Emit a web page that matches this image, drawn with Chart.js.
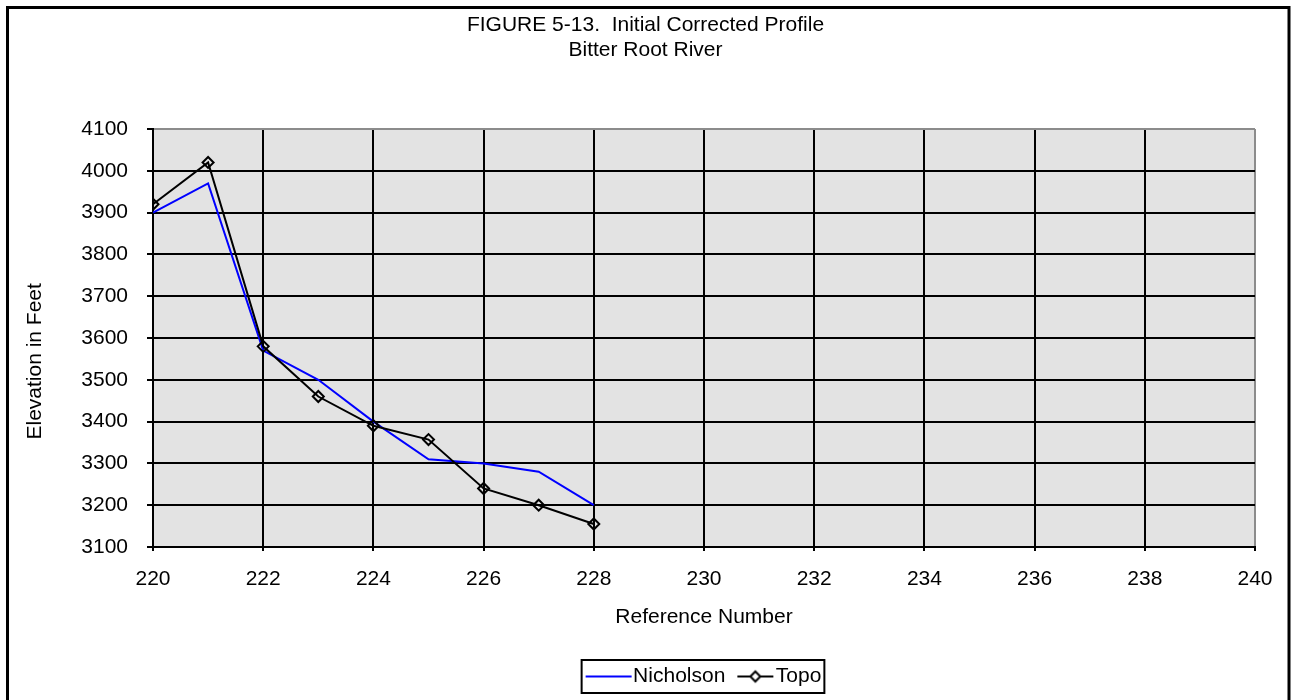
<!DOCTYPE html>
<html>
<head>
<meta charset="utf-8">
<script src="https://cdn.jsdelivr.net/npm/chart.js@4"></script>
<style>
  html, body { margin: 0; padding: 0; background: #fff; }
  #wrap { width: 1291px; height: 700px; }
</style>
</head>
<body>
<div id="wrap"><canvas id="myChart" width="1291" height="700"></canvas></div>
<script>
var refNumbers = [220, 221, 222, 223, 224, 225, 226, 227, 228];
var nicholson = [3900, 3970, 3570, 3500, 3400, 3310, 3300, 3280, 3200];
var topo = [3920, 4020, 3580, 3460, 3390, 3357, 3240, 3200, 3155];
var titleLines = ["FIGURE 5-13.  Initial Corrected Profile", "Bitter Root River"];
var xRange = [220, 240];
var yRange = [3100, 4100];

var font = "'Liberation Sans', Arial, sans-serif";

function toPoints(vals) {
    let out = [];
    for (let i = 0; i < refNumbers.length; i++) {
        out.push({ x: refNumbers[i], y: vals[i] });
    }
    return out;
}

// little pictures for the legend keys
function legendKey(withMarker, color) {
    let c = document.createElement("canvas");
    c.width = 100;
    c.height = 16;
    let g = c.getContext("2d");
    g.strokeStyle = color;
    g.lineWidth = 2;
    g.beginPath();
    if (withMarker) {
        g.moveTo(40, 8); g.lineTo(76, 8);
    } else {
        g.moveTo(31, 8); g.lineTo(77, 8);
    }
    g.stroke();
    if (withMarker) {
        g.lineWidth = 2;
        g.fillStyle = "#fff";
        g.beginPath();
        g.moveTo(58 - 5, 8); g.lineTo(58, 8 - 5);
        g.lineTo(58 + 5, 8); g.lineTo(58, 8 + 5);
        g.closePath();
        g.fill();
        g.stroke();
    }
    return c;
}
var keyImages = [legendKey(false, "#0000ff"), legendKey(true, "#000")];

const frame = {
    id: "frame",
    beforeDraw(chart) {
        const ctx = chart.ctx;
        const a = chart.chartArea;
        ctx.save();
        ctx.fillStyle = "#fff";
        ctx.fillRect(0, 0, chart.width, chart.height);
        ctx.fillStyle = "#e3e3e3";
        ctx.fillRect(a.left, a.top, a.right - a.left, a.bottom - a.top);
        ctx.restore();
    },
    afterDraw(chart) {
        const ctx = chart.ctx;
        ctx.save();
        ctx.strokeStyle = "#000";
        ctx.lineWidth = 3;
        ctx.strokeRect(7.5, 7.5, 1281.5, 710);
        // box round the legend
        let hb = chart.legend.legendHitBoxes;
        if (hb && hb.length) {
            let l = hb[0].left, r = hb[hb.length - 1].left + hb[hb.length - 1].width;
            let t = hb[0].top;
            ctx.lineWidth = 2;
            ctx.strokeRect(l - 5, t - 6, r - l + 8, 33);
        }
        ctx.restore();
    }
};

const config = {
    type: "line",
    data: {
        datasets: [
            {
                label: "Nicholson",
                data: toPoints(nicholson),
                borderColor: "#0000ff",
                backgroundColor: "#0000ff",
                borderWidth: 2,
                pointRadius: 0,
                tension: 0,
                fill: false,
                order: 2,
            },
            {
                label: "Topo",
                data: toPoints(topo),
                borderColor: "#000",
                backgroundColor: "rgba(0,0,0,0)",
                borderWidth: 2,
                pointStyle: "rectRot",
                pointRadius: 5.5,
                pointBorderWidth: 2,
                pointBorderColor: "#000",
                pointBackgroundColor: "rgba(0,0,0,0)",
                tension: 0,
                fill: false,
                order: 1,
            },
        ],
    },
    options: {
        responsive: false,
        animation: false,
        layout: { padding: { left: 0, right: 0, top: 0, bottom: 3 } },
        plugins: {
            tooltip: { enabled: false },
            title: {
                display: true,
                text: titleLines,
                color: "#000",
                font: { family: font, size: 21, weight: "normal", lineHeight: 1.19 },
                padding: { top: 12.5, bottom: 66.5 },
            },
            legend: {
                position: "bottom",
                fullSize: false,
                labels: {
                    color: "#000",
                    font: { family: font, size: 21 },
                    usePointStyle: true,
                    pointStyleWidth: 36,
                    padding: 4,
                    sort: (a, b) => a.datasetIndex - b.datasetIndex,
                    generateLabels: (chart) => {
                        let items = Chart.defaults.plugins.legend.labels.generateLabels(chart);
                        items.forEach((it) => { it.pointStyle = keyImages[it.datasetIndex]; });
                        return items;
                    },
                },
            },
        },
        scales: {
            x: {
                type: "linear",
                min: xRange[0],
                max: xRange[1],
                afterFit: (s) => { s.height = 115; },
                ticks: {
                    stepSize: 2,
                    color: "#000",
                    padding: 16,
                    maxRotation: 0,
                    font: { family: font, size: 21 },
                    callback: (v) => String(v),
                },
                grid: {
                    color: (c) => (c.tick && c.tick.value === xRange[1] ? "#8c8c8c" : "#000"),
                    tickColor: "#000",
                    lineWidth: 2,
                    tickLength: 4,
                },
                border: { color: "#000", width: 2 },
                title: {
                    display: true,
                    text: "Reference Number",
                    color: "#000",
                    font: { family: font, size: 21 },
                    padding: { top: 0, bottom: 32 },
                },
            },
            y: {
                type: "linear",
                min: yRange[0],
                max: yRange[1],
                afterFit: (s) => { s.width = 153; },
                ticks: {
                    stepSize: 100,
                    color: "#000",
                    padding: 19,
                    font: { family: font, size: 21 },
                    callback: (v) => String(v),
                },
                grid: {
                    color: (c) => (c.tick && c.tick.value === yRange[1] ? "#8c8c8c" : "#000"),
                    tickColor: "#000",
                    lineWidth: 2,
                    tickLength: 6,
                },
                border: { color: "#000", width: 2 },
                title: {
                    display: true,
                    text: "Elevation in Feet        ",
                    color: "#000",
                    font: { family: font, size: 21 },
                    padding: { top: 23, bottom: 0 },
                },
            },
            // empty strip on the right so the title stays centred on the page
            yRight: {
                type: "linear",
                position: "right",
                afterFit: (s) => { s.width = 36; },
                ticks: { display: false },
                grid: { display: false },
                border: { display: false },
            },
        },
    },
    plugins: [frame],
};

var myChart = new Chart(document.getElementById("myChart"), config);
</script>
</body>
</html>
